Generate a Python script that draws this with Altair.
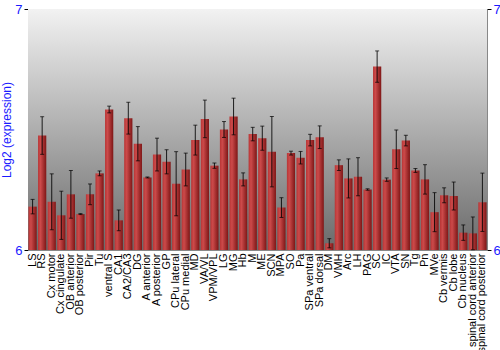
import altair as alt
import pandas as pd

regions = ["LS", "RS", "Cx motor", "Cx cingulate", "OB anterior", "OB posterior", "Pir", "Tu",
           "ventral S", "CA1", "CA2/CA3", "DG", "A anterior", "A posterior", "GP", "CPu lateral",
           "CPu medial", "MD", "VA/VL", "VPM/VPL", "LG", "MG", "Hb", "M", "ME", "SCN", "MPA", "SO",
           "Pa", "SPa ventral", "SPa dorsal", "DM", "VMH", "Arc", "LH", "PAG", "SC", "IC", "VTA",
           "SN", "Tg", "Pn", "MVe", "Cb vermis", "Cb lobe", "Cb nucleus", "spinal cord anterior",
           "spinal cord posterior"]
values = [6.18, 6.475, 6.20, 6.144, 6.231, 6.149, 6.231, 6.318,
          6.583, 6.123, 6.547, 6.441, 6.301, 6.396, 6.366, 6.275,
          6.334, 6.456, 6.544, 6.35, 6.50, 6.554, 6.293, 6.481, 6.464, 6.408, 6.176, 6.402,
          6.383, 6.456, 6.468, 6.028, 6.352, 6.297, 6.304, 6.251, 6.761, 6.292, 6.418,
          6.454, 6.33, 6.293, 6.157, 6.227, 6.224, 6.072, 6.069,
          6.198]
errors = [0.03, 0.078, 0.116, 0.10, 0.099, 0.002, 0.043, 0.01,
          0.014, 0.043, 0.066, 0.071, 0.002, 0.068, 0.05, 0.133,
          0.068, 0.062, 0.078, 0.011, 0.033, 0.076, 0.027, 0.028, 0.05, 0.146, 0.041, 0.008,
          0.026, 0.024, 0.047, 0.019, 0.022, 0.081, 0.079, 0.003, 0.065, 0.007, 0.080,
          0.022, 0.008, 0.061, 0.081, 0.031, 0.058, 0.032, 0.068,
          0.121]

df = pd.DataFrame({"region": regions, "value": values, "err": errors})
df["lo"] = df["value"] - df["err"]
df["hi"] = df["value"] + df["err"]

W, H = 459, 241
blue = "#1a1aff"

xenc = alt.X("region:N", sort=regions, scale=alt.Scale(paddingInner=0.14, paddingOuter=0.05),
             axis=alt.Axis(title=None, labelAngle=270, labelFontSize=11, labelColor="black",
                           labelFont="Liberation Sans", ticks=False, domain=False,
                           labelPadding=3, labelOverlap=False))
yscale = alt.Scale(domain=[6, 7], nice=False, clamp=True)

bg = alt.Chart(pd.DataFrame({"a": [0]})).mark_rect(
    color=alt.Gradient(gradient="linear", x1=0, x2=0, y1=0, y2=1,
                       stops=[alt.GradientStop(offset=0, color="#f2f2f2"),
                              alt.GradientStop(offset=1, color="#6a6a6a")])
).encode(x=alt.value(0), x2=alt.value(W), y=alt.value(0), y2=alt.value(H))

bars = alt.Chart(df).mark_bar(
    color=alt.Gradient(gradient="linear", x1=0, x2=1, y1=0, y2=0,
                       stops=[alt.GradientStop(offset=0, color="#b83535"),
                              alt.GradientStop(offset=0.3, color="#cc4a4a"),
                              alt.GradientStop(offset=1, color="#7e1616")])
).encode(
    x=xenc,
    y=alt.Y("value:Q", scale=yscale,
            axis=alt.Axis(title="Log2 (expression)", values=[6, 7], orient="left", format="d",
                          titleColor=blue, labelColor=blue, labelFontSize=13,
                          titleFontSize=12, titleFontWeight="normal", titleFont="Liberation Sans",
                          labelFont="Liberation Sans", grid=False, domainColor="#888888",
                          tickColor="black", tickSize=4, titlePadding=1, labelPadding=2)),
    y2=alt.datum(6),
)

rules = alt.Chart(df).mark_rule(color="black", strokeWidth=1, opacity=0.85).encode(
    x=alt.X("region:N", sort=regions), y=alt.Y("lo:Q", scale=yscale, axis=None), y2="hi:Q")
caps_hi = alt.Chart(df).mark_tick(color="black", thickness=1, size=4).encode(
    x=alt.X("region:N", sort=regions), y=alt.Y("hi:Q", scale=yscale, axis=None))
caps_lo = alt.Chart(df).mark_tick(color="black", thickness=1, size=4).encode(
    x=alt.X("region:N", sort=regions), y=alt.Y("lo:Q", scale=yscale, axis=None))

right_axis = alt.Chart(df).mark_point(opacity=0).encode(
    x=alt.X("region:N", sort=regions),
    y=alt.Y("value:Q", scale=yscale,
            axis=alt.Axis(title=None, values=[6, 7], orient="right", format="d", labelColor=blue,
                          labelFontSize=13, labelFont="Liberation Sans", grid=False,
                          domainColor="#888888", tickColor="black", tickSize=4, labelPadding=2)))

chart = alt.layer(bg, bars, rules, caps_hi, caps_lo, right_axis).resolve_axis(
    y="independent").resolve_scale(y="shared").properties(
    width=W, height=H,
    autosize=alt.AutoSizeParams(type="none"),
    padding={"left": 28, "top": 9, "right": 13, "bottom": 100},
).configure_view(stroke="#888888", strokeWidth=1)

chart.save("out.html", embed_options={"renderer": "svg", "actions": False})
